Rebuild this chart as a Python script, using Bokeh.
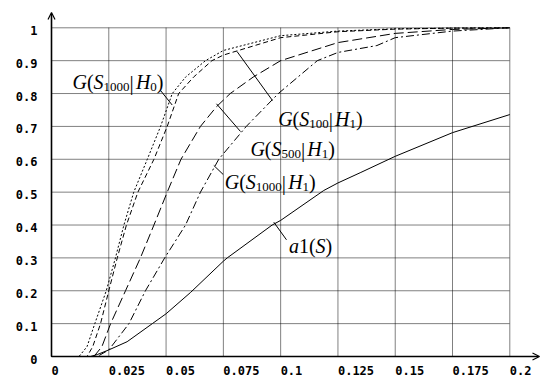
import numpy as np
from bokeh.plotting import figure
from bokeh.models import Range1d, Arrow, OpenHead
from bokeh.core.properties import value
from bokeh.embed import file_html
from bokeh.resources import INLINE

# ---------------- data ----------------
x_ticks = [0, 0.025, 0.05, 0.075, 0.1, 0.125, 0.15, 0.175, 0.2]
x_tick_labels = ["0", "0.025", "0.05", "0.075", "0.1", "0.125", "0.15", "0.175", "0.2"]
y_ticks = [0, 0.1, 0.2, 0.3, 0.4, 0.5, 0.6, 0.7, 0.8, 0.9, 1.0]
y_tick_labels = ["0", "0.1", "0.2", "0.3", "0.4", "0.5", "0.6", "0.7", "0.8", "0.9", "1"]

# G(S1000|H0)  (dotted)
h0_x = [0, 0.012, 0.0155, 0.0189, 0.0239, 0.0279, 0.0316, 0.0359, 0.0418, 0.0476, 0.0527,
        0.0585, 0.0672, 0.075, 0.1, 0.125, 0.15, 0.175, 0.2]
h0_y = [0, 0, 0.03, 0.1, 0.2, 0.3, 0.4, 0.5, 0.6, 0.7, 0.8,
        0.85, 0.9, 0.931, 0.976, 0.99, 0.997, 0.999, 1.0]

# G(S100|H1)  (short dashes)
s100_x = [0, 0.0155, 0.018, 0.0214, 0.025, 0.0287, 0.0327, 0.0377, 0.0447, 0.0505, 0.0555,
          0.062, 0.07, 0.075, 0.1, 0.125, 0.15, 0.175, 0.2]
s100_y = [0, 0, 0.03, 0.1, 0.2, 0.3, 0.4, 0.5, 0.6, 0.7, 0.8,
          0.85, 0.9, 0.917, 0.97, 0.988, 0.996, 0.999, 1.0]

# G(S500|H1)  (long dashes)
s500_x = [0, 0.0185, 0.022, 0.0258, 0.0323, 0.0388, 0.0447, 0.0505, 0.0565, 0.065, 0.072,
          0.078, 0.088, 0.1, 0.125, 0.15, 0.175, 0.2]
s500_y = [0, 0, 0.03, 0.1, 0.2, 0.3, 0.4, 0.5, 0.6, 0.7, 0.76,
          0.8, 0.85, 0.9, 0.955, 0.983, 0.995, 1.0]

# G(S1000|H1)  (dash-dot)
s1000_x = [0, 0.02, 0.025, 0.0338, 0.041, 0.0494, 0.0585, 0.065, 0.073, 0.085, 0.099,
           0.116, 0.125, 0.142, 0.15, 0.175, 0.2]
s1000_y = [0, 0, 0.02, 0.1, 0.2, 0.3, 0.4, 0.5, 0.6, 0.7, 0.8,
           0.9, 0.925, 0.946, 0.97, 0.99, 1.0]

# a1(S)  (solid)
a1_x = [0, 0.017, 0.02, 0.025, 0.033, 0.044, 0.05, 0.0607, 0.075, 0.0767, 0.0963, 0.1,
        0.1188, 0.125, 0.135, 0.15, 0.175, 0.2]
a1_y = [0, 0, 0.006, 0.02, 0.045, 0.1, 0.13, 0.195, 0.29, 0.3, 0.4, 0.414,
        0.505, 0.528, 0.56, 0.609, 0.681, 0.736]

# ---------------- geometry ----------------
W, H = 543, 381
SX = 2291.5      # px per x unit
SY = 328.7       # px per y unit
X0PX, Y0PX = 51.0, 356.0   # pixel position of data origin in figure

p = figure(width=W, height=H, output_backend="svg", toolbar_location=None,
           x_axis_location=None, y_axis_location=None, min_border=0,
           x_range=Range1d(-X0PX / SX, (W - X0PX) / SX),
           y_range=Range1d(-(H - Y0PX) / SY, Y0PX / SY),
           outline_line_color=None)
p.grid.visible = False
p.background_fill_color = "white"
p.border_fill_color = "white"

# grid (dotted)
gx = x_ticks[1:]
p.segment(x0=gx, y0=[0] * len(gx), x1=gx, y1=[y_ticks[-1]] * len(gx),
          line_color="black", line_width=1, line_dash="1 1")
gy = y_ticks[1:]
p.segment(x0=[0] * len(gy), y0=gy, x1=[x_ticks[-1]] * len(gy), y1=gy,
          line_color="black", line_width=1, line_dash="1 1")

# axes with arrows
p.add_layout(Arrow(end=OpenHead(size=7, line_width=1.2), x_start=0, y_start=0,
                   x_end=0, y_end=(Y0PX - 12) / SY, line_width=1.6, line_color="black"))
p.add_layout(Arrow(end=OpenHead(size=7, line_width=1.2), x_start=0, y_start=0,
                   x_end=(539 - X0PX) / SX, y_end=0, line_width=1.6, line_color="black"))

# curves
p.line(h0_x, h0_y, line_color="black", line_width=1, line_dash="2 2")
p.line(s100_x, s100_y, line_color="black", line_width=1, line_dash="5 3")
p.line(s500_x, s500_y, line_color="black", line_width=1, line_dash="10 4")
p.line(s1000_x, s1000_y, line_color="black", line_width=1, line_dash="8 3 2 3")
p.line(a1_x, a1_y, line_color="black", line_width=1)

# tick labels
tick_font = value("DejaVu Sans Mono")
p.text(x=x_ticks, y=[-9.0 / SY] * len(x_ticks), text=x_tick_labels, text_font=tick_font,
       text_font_style="bold", text_font_size="12px", text_align="left",
       text_baseline="top", text_color="black")
p.text(x=[-14.0 / SX] * len(y_ticks), y=[v - 2.5 / SY for v in y_ticks], text=y_tick_labels,
       text_font=tick_font, text_font_style="bold", text_font_size="12px",
       text_align="right", text_baseline="middle", text_color="black")

# math-like labels composed of pieces
serif = value("Liberation Serif")
EM = {"G": 0.722, "S": 0.5, "H": 0.722, "a": 0.5, "(": 0.333, ")": 0.333, "|": 0.3}


def piece_w(t, size):
    return sum(EM.get(c, 0.5) for c in t) * size


def put_label(x0, y0, pieces):
    cx = 0.0
    for txt, italic, size, dy in pieces:
        p.text(x=[x0 + cx / SX], y=[y0 - dy / SY], text=[txt], text_font=serif,
               text_font_style="italic" if italic else "normal",
               text_font_size=f"{size}px", text_align="left",
               text_baseline="alphabetic", text_color="black")
        cx += piece_w(txt, size)


def g_label(n, k):
    return [("G", True, 20, 0), ("(", False, 20, 0), ("S", True, 20, 0), (n, False, 13, 5),
            ("|", False, 21, 1), ("H", True, 20, 0), (k, False, 13, 5), (")", False, 20, 0)]


label_specs = [
    (0.00916, 0.8336, g_label("1000", "0")),
    (0.0989, 0.7232, g_label("100", "1")),
    (0.0868, 0.6319, g_label("500", "1")),
    (0.0756, 0.5303, g_label("1000", "1")),
    (0.1036, 0.3347, [("a", True, 20, 0), ("1", False, 20, 0), ("(", False, 20, 0),
                      ("S", True, 20, 0), (")", False, 20, 0)]),
]
for lx, ly, pcs in label_specs:
    put_label(lx, ly, pcs)

# leader lines
lead_x0 = [0.04757, 0.08095, 0.0720, 0.07083, 0.09701]
lead_y0 = [0.8093, 0.9280, 0.7688, 0.5811, 0.4086]
lead_x1 = [0.05267, 0.09643, 0.08248, 0.07493, 0.10255]
lead_y1 = [0.7651, 0.7788, 0.6845, 0.5537, 0.3550]
p.segment(x0=lead_x0, y0=lead_y0, x1=lead_x1, y1=lead_y1, line_color="black", line_width=1)

open("out.html", "w").write(file_html(p, INLINE))
